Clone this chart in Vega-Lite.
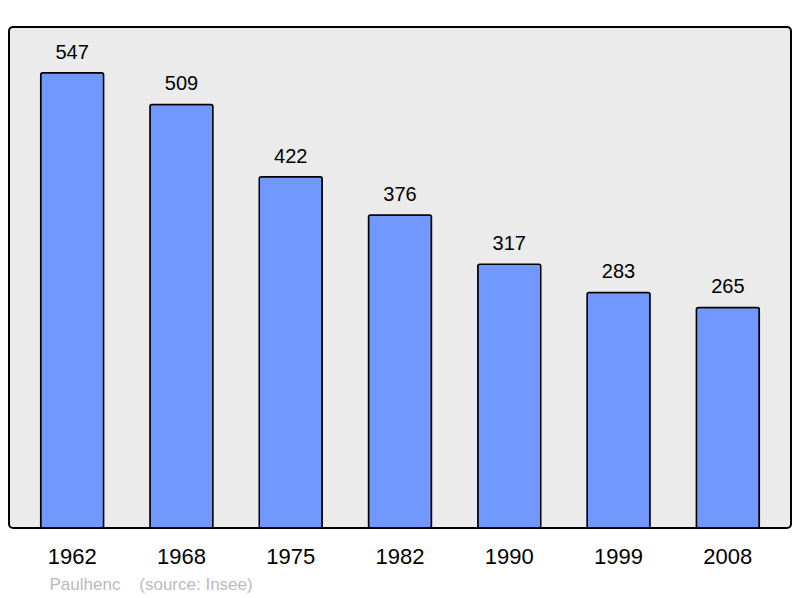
{
  "$schema": "https://vega.github.io/schema/vega-lite/v6.json",
  "width": 782,
  "height": 501,
  "autosize": "none",
  "padding": {"left": 9, "top": 27, "right": 9, "bottom": 70},
  "background": "white",
  "config": {
    "view": {"stroke": "#000000", "strokeWidth": 2, "fill": "#ebebeb", "cornerRadius": 4},
    "font": "Liberation Sans"
  },
  "data": {
    "values": [
      {"year": "1962", "pop": 547},
      {"year": "1968", "pop": 509},
      {"year": "1975", "pop": 422},
      {"year": "1982", "pop": 376},
      {"year": "1990", "pop": 317},
      {"year": "1999", "pop": 283},
      {"year": "2008", "pop": 265}
    ]
  },
  "encoding": {
    "x": {
      "field": "year",
      "type": "nominal",
      "sort": null,
      "scale": {"paddingInner": 0.424, "paddingOuter": 0.29},
      "axis": {
        "domain": false,
        "ticks": false,
        "labelAngle": 0,
        "labelFontSize": 22,
        "labelColor": "#000000",
        "labelPadding": 18,
        "labelFont": "Liberation Sans",
        "title": "Paulhenc \u00a0\u00a0\u00a0(source: Insee)",
        "titleFontSize": 17,
        "titleFontWeight": "normal",
        "titleColor": "#bbbbbb",
        "titleFont": "Liberation Sans",
        "titleAnchor": "start",
        "titleAlign": "left",
        "titleBaseline": "alphabetic",
        "titleX": 40,
        "titleY": 61
      }
    },
    "y": {
      "field": "pop",
      "type": "quantitative",
      "scale": {"domain": [0, 602], "nice": false, "zero": true},
      "axis": null
    }
  },
  "layer": [
    {
      "mark": {"type": "bar", "color": "#7098ff", "stroke": "#000000", "strokeWidth": 1.5, "cornerRadius": 2}
    },
    {
      "mark": {"type": "text", "baseline": "alphabetic", "dy": -14, "fontSize": 20, "color": "#000000", "font": "Liberation Sans"},
      "encoding": {"text": {"field": "pop", "type": "quantitative"}}
    }
  ]
}
